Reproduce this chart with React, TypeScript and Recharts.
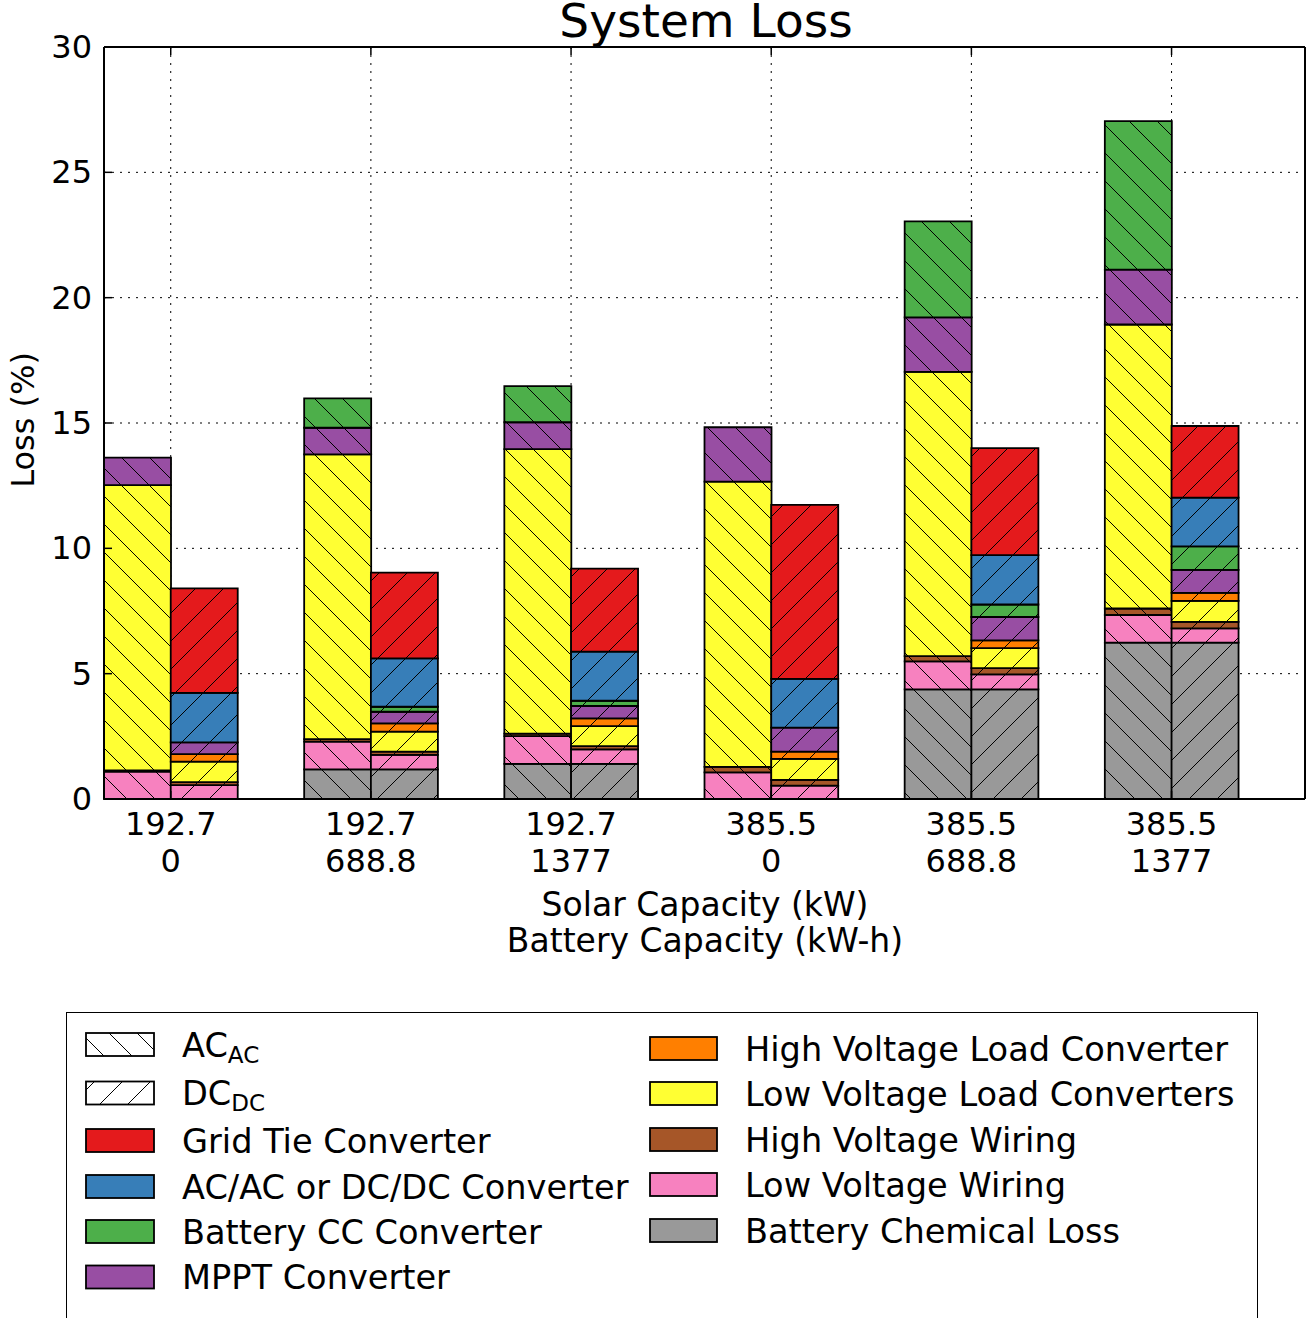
import React from 'react';
import { BarChart, Bar, XAxis, YAxis, CartesianGrid, Cell } from 'recharts';

const FONT = '"DejaVu Sans", sans-serif';

// x groups (solar / battery capacity)
const groupTicks = [0, 1, 2, 3, 4, 5];
const solarLabels = ['192.7', '192.7', '192.7', '385.5', '385.5', '385.5'];
const batteryLabels = ['0', '688.8', '1377', '0', '688.8', '1377'];
const yTicks = [0, 5, 10, 15, 20, 25, 30];

// loss values in %, pairs of [AC, DC] for each configuration
const batteryChemical = [0, 0, 1.18, 1.18, 1.4, 1.4, 0, 0, 4.37, 4.37, 6.24, 6.24];
const lvWiring = [1.09, 0.55, 1.11, 0.58, 1.11, 0.58, 1.06, 0.53, 1.12, 0.6, 1.1, 0.57];
const hvWiring = [0.05, 0.12, 0.1, 0.13, 0.1, 0.13, 0.22, 0.23, 0.21, 0.25, 0.26, 0.26];
const lvLoad = [11.38, 0.82, 11.36, 0.8, 11.35, 0.8, 11.38, 0.84, 11.34, 0.8, 11.33, 0.83];
const hvLoad = [0, 0.3, 0, 0.33, 0, 0.31, 0, 0.29, 0, 0.31, 0, 0.32];
const mppt = [1.1, 0.47, 1.06, 0.46, 1.07, 0.49, 2.17, 0.96, 2.17, 0.93, 2.19, 0.92];
const batteryCC = [0, 0, 1.17, 0.2, 1.44, 0.21, 0, 0, 3.83, 0.5, 5.92, 0.94];
const acdcConv = [0, 1.97, 0, 1.93, 0, 1.96, 0, 1.94, 0, 1.97, 0, 1.94];
const gridTie = [0, 4.17, 0, 3.42, 0, 3.31, 0, 6.94, 0, 4.27, 0, 2.86];

// stacking order, bottom to top
const series = [
  { key: 'chem', name: 'Battery Chemical Loss', color: '#999999', values: batteryChemical },
  { key: 'lvw', name: 'Low Voltage Wiring', color: '#f781bf', values: lvWiring },
  { key: 'hvw', name: 'High Voltage Wiring', color: '#a65628', values: hvWiring },
  { key: 'lvl', name: 'Low Voltage Load Converters', color: '#ffff33', values: lvLoad },
  { key: 'hvl', name: 'High Voltage Load Converter', color: '#ff7f00', values: hvLoad },
  { key: 'mppt', name: 'MPPT Converter', color: '#984ea3', values: mppt },
  { key: 'bcc', name: 'Battery CC Converter', color: '#4daf4a', values: batteryCC },
  { key: 'acdc', name: 'AC/AC or DC/DC Converter', color: '#377eb8', values: acdcConv },
  { key: 'grid', name: 'Grid Tie Converter', color: '#e41a1c', values: gridTie },
];

// three slots per group: AC bar, DC bar, empty gap; pos = slot centre in group units
const slotKinds = ['ac', 'dc', 'gap'];
const rows: any[] = [];
groupTicks.forEach((g) => {
  slotKinds.forEach((kind, k) => {
    const row: any = { slot: kind + g, kind, pos: g - 1 / 6 + k / 3 };
    if (kind !== 'gap') {
      series.forEach((s) => {
        row[s.key] = s.values[g * 2 + k];
      });
    }
    rows.push(row);
  });
});

const H = 28;

function HatchPattern({ id, color, dir }: { id: string; color: string; dir: 'back' | 'fwd' }) {
  const d =
    dir === 'back'
      ? `M0,0 L${H},${H} M-3,${H - 3} L3,${H + 3} M${H - 3},-3 L${H + 3},3`
      : `M0,${H} L${H},0 M-3,3 L3,-3 M${H - 3},${H + 3} L${H + 3},${H - 3}`;
  return (
    <pattern id={id} patternUnits="userSpaceOnUse" width={H} height={H}>
      <rect width={H} height={H} fill={color} />
      <path d={d} stroke="#000" strokeWidth={1} />
    </pattern>
  );
}

const BottomTick = (props: any) => {
  const { x, y, payload } = props;
  const i = Math.round(payload.value);
  return (
    <g>
      <line x1={x} x2={x} y1={y} y2={y - 8} stroke="#000" strokeWidth={1.5} />
      <text x={x} y={y + 36} textAnchor="middle" fontSize={32} fontFamily={FONT} fill="#000">
        {solarLabels[i]}
      </text>
      <text x={x} y={y + 73} textAnchor="middle" fontSize={32} fontFamily={FONT} fill="#000">
        {batteryLabels[i]}
      </text>
    </g>
  );
};

const TopTick = (props: any) => {
  const { x, y } = props;
  return <line x1={x} x2={x} y1={y} y2={y + 8} stroke="#000" strokeWidth={1.5} />;
};

const LeftTick = (props: any) => {
  const { x, y, payload } = props;
  return (
    <g>
      <line x1={x} x2={x + 8} y1={y} y2={y} stroke="#000" strokeWidth={1.5} />
      <text x={x - 12} y={y + 11} textAnchor="end" fontSize={32} fontFamily={FONT} fill="#000">
        {payload.value}
      </text>
    </g>
  );
};

const RightTick = (props: any) => {
  const { x, y } = props;
  return <line x1={x - 8} x2={x} y1={y} y2={y} stroke="#000" strokeWidth={1.5} />;
};

const legendLeft = [
  { label: 'AC', sub: 'AC', fill: 'url(#leg-back)', cy: 1044.5 },
  { label: 'DC', sub: 'DC', fill: 'url(#leg-fwd)', cy: 1093 },
  { label: 'Grid Tie Converter', fill: '#e41a1c', cy: 1140.5 },
  { label: 'AC/AC or DC/DC Converter', fill: '#377eb8', cy: 1186.5 },
  { label: 'Battery CC Converter', fill: '#4daf4a', cy: 1231.5 },
  { label: 'MPPT Converter', fill: '#984ea3', cy: 1277 },
];
const legendRight = [
  { label: 'High Voltage Load Converter', fill: '#ff7f00', cy: 1048.5 },
  { label: 'Low Voltage Load Converters', fill: '#ffff33', cy: 1093.5 },
  { label: 'High Voltage Wiring', fill: '#a65628', cy: 1139.5 },
  { label: 'Low Voltage Wiring', fill: '#f781bf', cy: 1184.5 },
  { label: 'Battery Chemical Loss', fill: '#999999', cy: 1230.5 },
];

function LegendEntry({ x, tx, w, item }: { x: number; tx: number; w: number; item: any }) {
  return (
    <g>
      <rect x={x} y={item.cy - 11.5} width={w} height={23} fill={item.fill} stroke="#000" strokeWidth={1.8} />
      <text x={tx} y={item.cy + 12} fontSize={33.6} fontFamily={FONT} fill="#000">
        {item.label}
        {item.sub ? (
          <tspan fontSize={23} dy={6}>
            {item.sub}
          </tspan>
        ) : null}
      </text>
    </g>
  );
}

export default function App() {
  return (
    <div
      style={{
        position: 'absolute',
        left: 0,
        top: 0,
        width: 1306,
        height: 1318,
        overflow: 'hidden',
        background: '#fff',
      }}
    >
      <div style={{ position: 'absolute', left: 0, top: 0 }}>
        <BarChart
          width={1306}
          height={1000}
          data={rows}
          margin={{ top: 46, right: 0, bottom: 0, left: 0 }}
          barCategoryGap={0}
          barGap={0}
        >
          <defs>
            {series.map((s) => (
              <HatchPattern key={'b' + s.key} id={'back-' + s.key} color={s.color} dir="back" />
            ))}
            {series.map((s) => (
              <HatchPattern key={'f' + s.key} id={'fwd-' + s.key} color={s.color} dir="fwd" />
            ))}
          </defs>
          <XAxis xAxisId="cat" dataKey="slot" type="category" hide />
          <XAxis
            dataKey="pos"
            type="number"
            domain={[-1 / 3, 17 / 3]}
            allowDataOverflow
            ticks={groupTicks}
            tick={<BottomTick />}
            tickSize={0}
            tickMargin={0}
            tickLine={false}
            axisLine={{ stroke: '#000', strokeWidth: 2 }}
            height={201}
            interval={0}
          />
          <XAxis
            xAxisId="top"
            dataKey="pos"
            orientation="top"
            type="number"
            domain={[-1 / 3, 17 / 3]}
            allowDataOverflow
            ticks={groupTicks}
            tick={<TopTick />}
            tickSize={0}
            tickMargin={0}
            tickLine={false}
            axisLine={{ stroke: '#000', strokeWidth: 2 }}
            height={1}
            interval={0}
          />
          <YAxis
            domain={[0, 30]}
            ticks={yTicks}
            tick={<LeftTick />}
            tickSize={0}
            tickMargin={0}
            tickLine={false}
            axisLine={{ stroke: '#000', strokeWidth: 2 }}
            width={104}
            interval={0}
          />
          <YAxis
            yAxisId="right"
            orientation="right"
            domain={[0, 30]}
            ticks={yTicks}
            tick={<RightTick />}
            tickSize={0}
            tickMargin={0}
            tickLine={false}
            axisLine={{ stroke: '#000', strokeWidth: 2 }}
            width={1}
            interval={0}
          />
          {series.map((s) => (
            <Bar
              key={s.key}
              dataKey={s.key}
              name={s.name}
              stackId="loss"
              xAxisId="cat"
              stroke="#000"
              strokeWidth={1.8}
              isAnimationActive={false}
            >
              {rows.map((r) => (
                <Cell key={r.slot} fill={`url(#${r.kind === 'dc' ? 'fwd' : 'back'}-${s.key})`} />
              ))}
            </Bar>
          ))}
          <CartesianGrid stroke="#000" strokeWidth={1} strokeDasharray="2 6" />
        </BarChart>
      </div>
      <svg
        width={1306}
        height={1318}
        style={{ position: 'absolute', left: 0, top: 0, pointerEvents: 'none' }}
      >
        <defs>
          <HatchPattern id="leg-back" color="#fff" dir="back" />
          <HatchPattern id="leg-fwd" color="#fff" dir="fwd" />
        </defs>
        <text x={706} y={37} textAnchor="middle" fontSize={47} fontFamily={FONT} fill="#000">
          System Loss
        </text>
        <text
          x={33.5}
          y={420}
          transform="rotate(-90, 33.5, 420)"
          textAnchor="middle"
          fontSize={32}
          fontFamily={FONT}
          fill="#000"
        >
          Loss (%)
        </text>
        <text x={705} y={916} textAnchor="middle" fontSize={33} fontFamily={FONT} fill="#000">
          Solar Capacity (kW)
        </text>
        <text x={705} y={952} textAnchor="middle" fontSize={33} fontFamily={FONT} fill="#000">
          Battery Capacity (kW-h)
        </text>
        <rect x={66.5} y={1012.5} width={1191} height={400} fill="#fff" stroke="#000" strokeWidth={1} />
        {legendLeft.map((item) => (
          <LegendEntry key={item.label + (item.sub || '')} x={86} tx={182} w={68} item={item} />
        ))}
        {legendRight.map((item) => (
          <LegendEntry key={item.label} x={650} tx={745} w={67} item={item} />
        ))}
      </svg>
    </div>
  );
}
